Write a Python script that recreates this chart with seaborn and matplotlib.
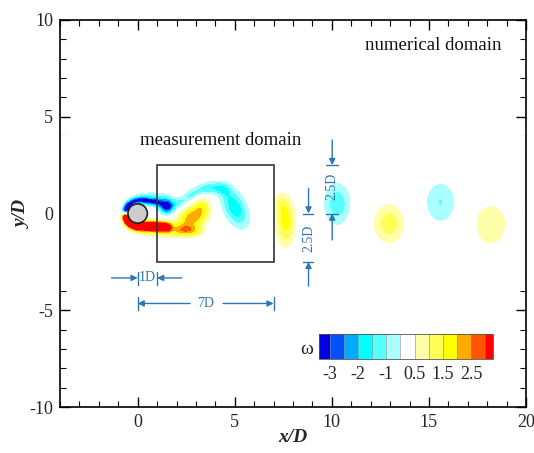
import numpy as np
import matplotlib
matplotlib.use("Agg")
import matplotlib.pyplot as plt
from matplotlib.patches import Circle, Rectangle
import seaborn as sns

# ---- vorticity contour levels and colours ----
levels = [-3.0, -2.5, -2.0, -1.5, -1.0, -0.5, 0.5, 1.0, 1.5, 2.0, 2.5, 3.0]
band_colors = ["#0000DC", "#0050FF", "#00AAFF", "#00FFFF", "#55FFFF", "#AAFFFF",
               "#FFFFFF",
               "#FFFFAA", "#FFFF55", "#FFFF00", "#FFAA00", "#FF5500", "#FF0000"]
cbar_ticks = [-3, -2, -1, 0.5, 1.5, 2.5]
cbar_ticklabels = ["-3", "-2", "-1", "0.5", "1.5", "2.5"]

# ---- vortical structures: centre x, centre y, peak vorticity, sigma_u, sigma_v, tilt (deg) ----
# upper (clockwise) shear layer and its rolled-up vortex
up_x = [-0.60, -0.49, -0.28, 0.0, 0.31, 0.65, 0.98, 1.50, 0.70,
        2.20, 2.80, 3.40, 3.95, 4.45, 5.00]
up_y = [0.16, 0.41, 0.60, 0.68, 0.66, 0.62, 0.57, 0.38, 0.85,
        0.55, 0.95, 1.25, 1.35, 1.25, 0.30]
up_w = [-3.6, -3.4, -2.5, -2.2, -2.0, -2.0, -2.1, -3.8, -1.0,
        -1.1, -1.15, -1.15, -1.1, -1.0, -1.95]
up_su = [0.15, 0.15, 0.15, 0.16, 0.18, 0.22, 0.22, 0.28, 0.60,
         0.30, 0.30, 0.30, 0.30, 0.25, 0.42]
up_sv = [0.15, 0.15, 0.15, 0.15, 0.15, 0.15, 0.16, 0.28, 0.22,
         0.22, 0.24, 0.24, 0.24, 0.25, 0.75]
up_tilt = [0, 0, 0, 0, 0, 0, -10, 0, 0,
           25, 30, 15, 0, -20, 25]

# lower (counter-clockwise) shear layer and its rolled-up vortex
lo_x = [-0.60, -0.49, -0.28, 0.0, 0.35, 0.75, 1.15, 1.50,
        1.30, 2.30, 2.90, 2.80, 3.30]
lo_y = [-0.16, -0.41, -0.58, -0.65, -0.66, -0.66, -0.68, -0.70,
        -0.90, -0.85, -0.90, -0.22, 0.40]
lo_w = [3.8, 3.8, 3.8, 3.8, 3.6, 3.4, 3.3, 2.7,
        0.8, 1.0, 0.8, 2.3, 0.8]
lo_su = [0.15, 0.15, 0.15, 0.16, 0.22, 0.22, 0.22, 0.20,
         0.90, 0.45, 0.40, 0.62, 0.25]
lo_sv = [0.15, 0.15, 0.15, 0.16, 0.18, 0.18, 0.18, 0.17,
         0.28, 0.17, 0.20, 0.40, 0.35]
lo_tilt = [0, 0, 0, 0, 0, 0, 0, 0,
           0, 0, 0, 35, 0]

# shed vortices further downstream
far_x = [7.62, 7.35, 10.28, 12.95, 15.60, 18.18]
far_y = [-0.42, 0.50, 0.50, -0.52, 0.58, -0.58]
far_w = [1.7, 0.6, -1.4, 1.3, -1.02, 0.9]
far_su = [0.33, 0.22, 0.49, 0.54, 0.60, 0.65]
far_sv = [0.85, 0.35, 0.77, 0.70, 0.82, 0.85]
far_tilt = [0, 10, 0, 0, 0, 0]

# ---- build the vorticity field on a grid ----
xg = np.linspace(-4, 20, 1201)
yg = np.linspace(-4, 4, 401)
X, Y = np.meshgrid(xg, yg)
W = np.zeros_like(X)
groups = [(up_x, up_y, up_w, up_su, up_sv, up_tilt),
          (lo_x, lo_y, lo_w, lo_su, lo_sv, lo_tilt),
          (far_x, far_y, far_w, far_su, far_sv, far_tilt)]
for gx, gy, gw, gsu, gsv, gt in groups:
    for x0, y0, a, su, sv, t in zip(gx, gy, gw, gsu, gsv, gt):
        th = np.deg2rad(t)
        dx, dy = X - x0, Y - y0
        u = np.cos(th) * dx + np.sin(th) * dy
        v = -np.sin(th) * dx + np.cos(th) * dy
        W += a * np.exp(-0.5 * ((u / su) ** 2 + (v / sv) ** 2))

# ---- figure ----
sns.set_theme(style="ticks")
plt.rcParams["font.family"] = ["Liberation Serif", "DejaVu Serif"]
plt.rcParams["axes.unicode_minus"] = False

fig = plt.figure(figsize=(5.34, 4.53), dpi=100)
ax = fig.add_axes([60 / 534, 46 / 453, 466 / 534, 387 / 453])

cs = ax.contourf(X, Y, W, levels=levels, colors=band_colors, extend="both", zorder=1)

# cylinder
ax.add_patch(Circle((0, 0), 0.5, facecolor="#CCCCCC", edgecolor="#222222", lw=1.2, zorder=5))

# measurement window
ax.add_patch(Rectangle((1, -2.5), 6, 5, fill=False, edgecolor="#333333", lw=1.2, zorder=4))

ax.text(0.12, 3.55, "measurement domain", fontsize=13.5, va="baseline", ha="left", color="#111111")
ax.text(11.72, 8.45, "numerical domain", fontsize=13.5, va="baseline", ha="left", color="#111111")

# dimension marks
dim_c = "#2E75B6"
arrow_kw = dict(arrowstyle="-|>", color=dim_c, lw=1.0, mutation_scale=9, shrinkA=0, shrinkB=0)


def bar_v(x, y0, y1):
    ax.plot([x, x], [y0, y1], color=dim_c, lw=1.0, zorder=6)


def bar_h(y, x0, x1):
    ax.plot([x0, x1], [y, y], color=dim_c, lw=1.0, zorder=6)


def arrow(x0, y0, x1, y1):
    ax.annotate("", xy=(x1, y1), xytext=(x0, y0), arrowprops=arrow_kw, zorder=6)


# 1D
bar_v(0, -3.0, -3.7)
bar_v(1, -3.0, -3.7)
arrow(-1.35, -3.33, 0, -3.33)
arrow(2.27, -3.33, 1, -3.33)
ax.text(0.5, -3.33, "1D", color=dim_c, fontsize=10, ha="center", va="center")

# 7D
bar_v(0, -4.3, -5.0)
bar_v(7, -4.3, -5.0)
arrow(2.7, -4.65, 0, -4.65)
arrow(4.4, -4.65, 7, -4.65)
ax.text(3.5, -4.65, "7D", color=dim_c, fontsize=10, ha="center", va="center")

# 2.5D below the centreline
bar_h(0, 8.52, 9.05)
bar_h(-2.5, 8.52, 9.05)
arrow(8.8, 1.3, 8.8, 0)
arrow(8.8, -3.75, 8.8, -2.5)
ax.text(8.8, -1.3, "2.5D", color=dim_c, fontsize=10, ha="center", va="center", rotation=90)

# 2.5D above the centreline
bar_h(2.5, 9.72, 10.32)
bar_h(0, 9.72, 10.32)
arrow(10.02, 3.8, 10.02, 2.5)
arrow(10.02, -1.37, 10.02, 0)
ax.text(10.02, 1.4, "2.5D", color=dim_c, fontsize=10, ha="center", va="center", rotation=90)

# axes styling
ax.set_xlim(-4, 20)
ax.set_ylim(-10, 10)
ax.set_xticks([0, 5, 10, 15, 20])
ax.set_yticks([-10, -5, 0, 5, 10])
ax.set_xticks(np.arange(-4, 21, 1), minor=True)
ax.set_yticks(np.arange(-10, 11, 1), minor=True)
ax.tick_params(which="both", direction="in", top=True, right=True, color="black")
ax.tick_params(which="major", length=7, width=1.0, labelsize=13, pad=5)
ax.tick_params(which="minor", length=4, width=0.8)
for s in ax.spines.values():
    s.set_linewidth(1.2)
    s.set_color("black")
ax.set_xlabel("x/D", fontsize=14, fontweight="bold", style="italic")
ax.set_ylabel("y/D", fontsize=14, fontweight="bold", style="italic")
ax.xaxis.set_label_coords(0.5, -0.058)
ax.yaxis.set_label_coords(-0.062, 0.5)
ax.set_facecolor("white")

# legend bar
cax = fig.add_axes([319 / 534, 1 - 359 / 453, 174 / 534, 25 / 453])
cb = fig.colorbar(cs, cax=cax, orientation="horizontal", extendrect=True,
                  extendfrac=(0.07, 0.05), drawedges=True)
cb.set_ticks(cbar_ticks, labels=cbar_ticklabels)
cb.outline.set_linewidth(0.6)
cb.outline.set_edgecolor("#555555")
cb.dividers.set_color("#888888")
cb.dividers.set_linewidth(0.4)
cax.tick_params(length=0, labelsize=13, pad=5)
fig.text(307 / 534, 1 - 349 / 453, "ω", ha="center", va="center", fontsize=14)

fig.savefig("out.png", dpi=100, facecolor="white")
